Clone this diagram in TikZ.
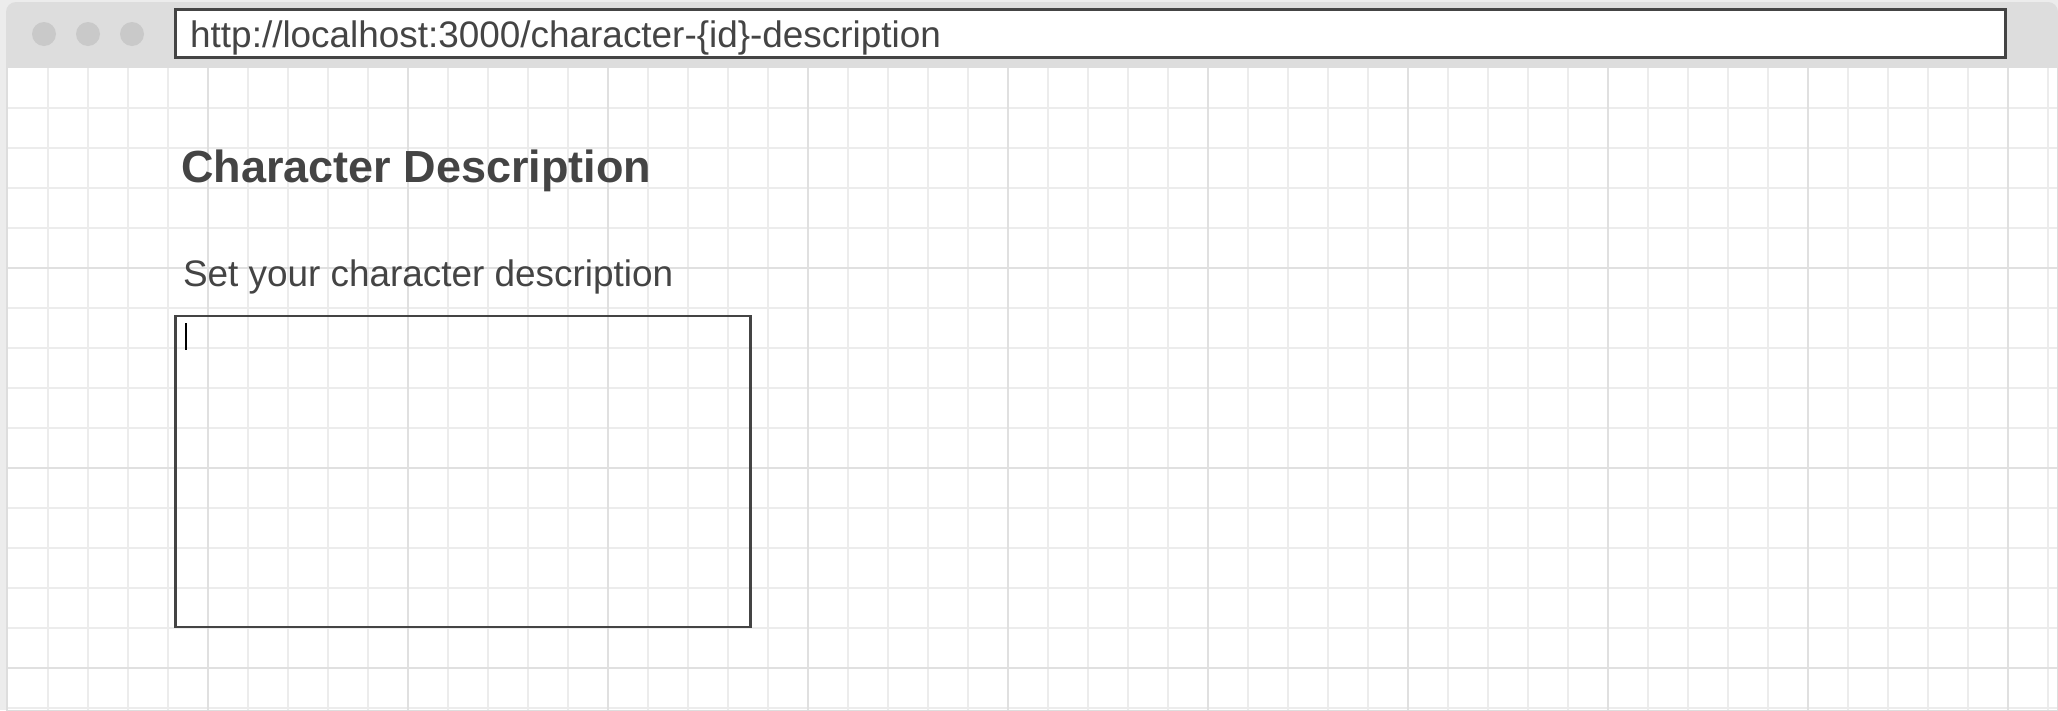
\documentclass[tikz,border=0pt]{standalone}
\usepackage{fontspec}
\setmainfont{Liberation Sans}
\definecolor{txtc}{HTML}{444444}
\definecolor{barc}{HTML}{DDDDDD}
\definecolor{shadec}{HTML}{ECECEC}
\definecolor{dotc}{HTML}{C9C9C9}
\definecolor{minorc}{HTML}{ECECEC}
\definecolor{majorc}{HTML}{E0E0E0}
\definecolor{strokec}{HTML}{444444}
\tikzset{
  minorline/.style={draw=minorc, line width=1.6pt},
  majorline/.style={draw=majorc, line width=1.8pt},
  winbtn/.style={circle, fill=dotc, draw=none, minimum size=24pt, inner sep=0pt, outer sep=0pt},
  fieldbox/.style={rectangle, draw=strokec, line width=2.2pt, inner sep=0pt, outer sep=0pt, anchor=north west},
  label/.style={text=txtc, inner sep=0pt, outer sep=0pt, anchor=base west},
}
\begin{document}
\begin{tikzpicture}[x=1pt,y=-1pt]
\useasboundingbox (0,0) rectangle (2058,710);
\clip (0,0) rectangle (2058,710);
% window frame
\fill[shadec] (0,0) rectangle (2058,710);
\fill[barc, rounded corners=10pt] (6,2) rectangle (2058,760);
\fill[white] (8,68) rectangle (2056.5,710);
% grid
\foreach \x in {48,88,...,2048} \draw[minorline] (\x,68) -- (\x,710);
\foreach \y in {108,148,...,708} \draw[minorline] (8,\y) -- (2056.5,\y);
\foreach \x in {208,408,...,2008} \draw[majorline] (\x,68) -- (\x,710);
\foreach \y in {268,468,668} \draw[majorline] (8,\y) -- (2056.5,\y);
% window buttons
\node[winbtn] (btn1) at (44,34) {};
\node[winbtn] (btn2) at (88,34) {};
\node[winbtn] (btn3) at (132,34) {};
% address bar
\node[fieldbox, fill=white, minimum width=1830pt, minimum height=48pt] (addr) at (175.5,9.5) {};
\node[label, font=\fontsize{36.9}{40}\selectfont] (url) at (190.2,47.7) {http://localhost:3000/character-\{id\}-description};
% heading
\node[label, font=\fontsize{45}{50}\selectfont\bfseries] (title) at (181.2,182.7) {Character Description};
\node[label, font=\fontsize{36.9}{40}\selectfont] (sub) at (183,286) {Set your character description};
% text area
\node[fieldbox, minimum width=575pt, minimum height=311pt] (area) at (175.5,316) {};
\coordinate (curtop) at (186,323);
\coordinate (curbot) at (186,350);
\draw[black, line width=2.4pt] (curtop) -- (curbot);
\end{tikzpicture}
\end{document}
